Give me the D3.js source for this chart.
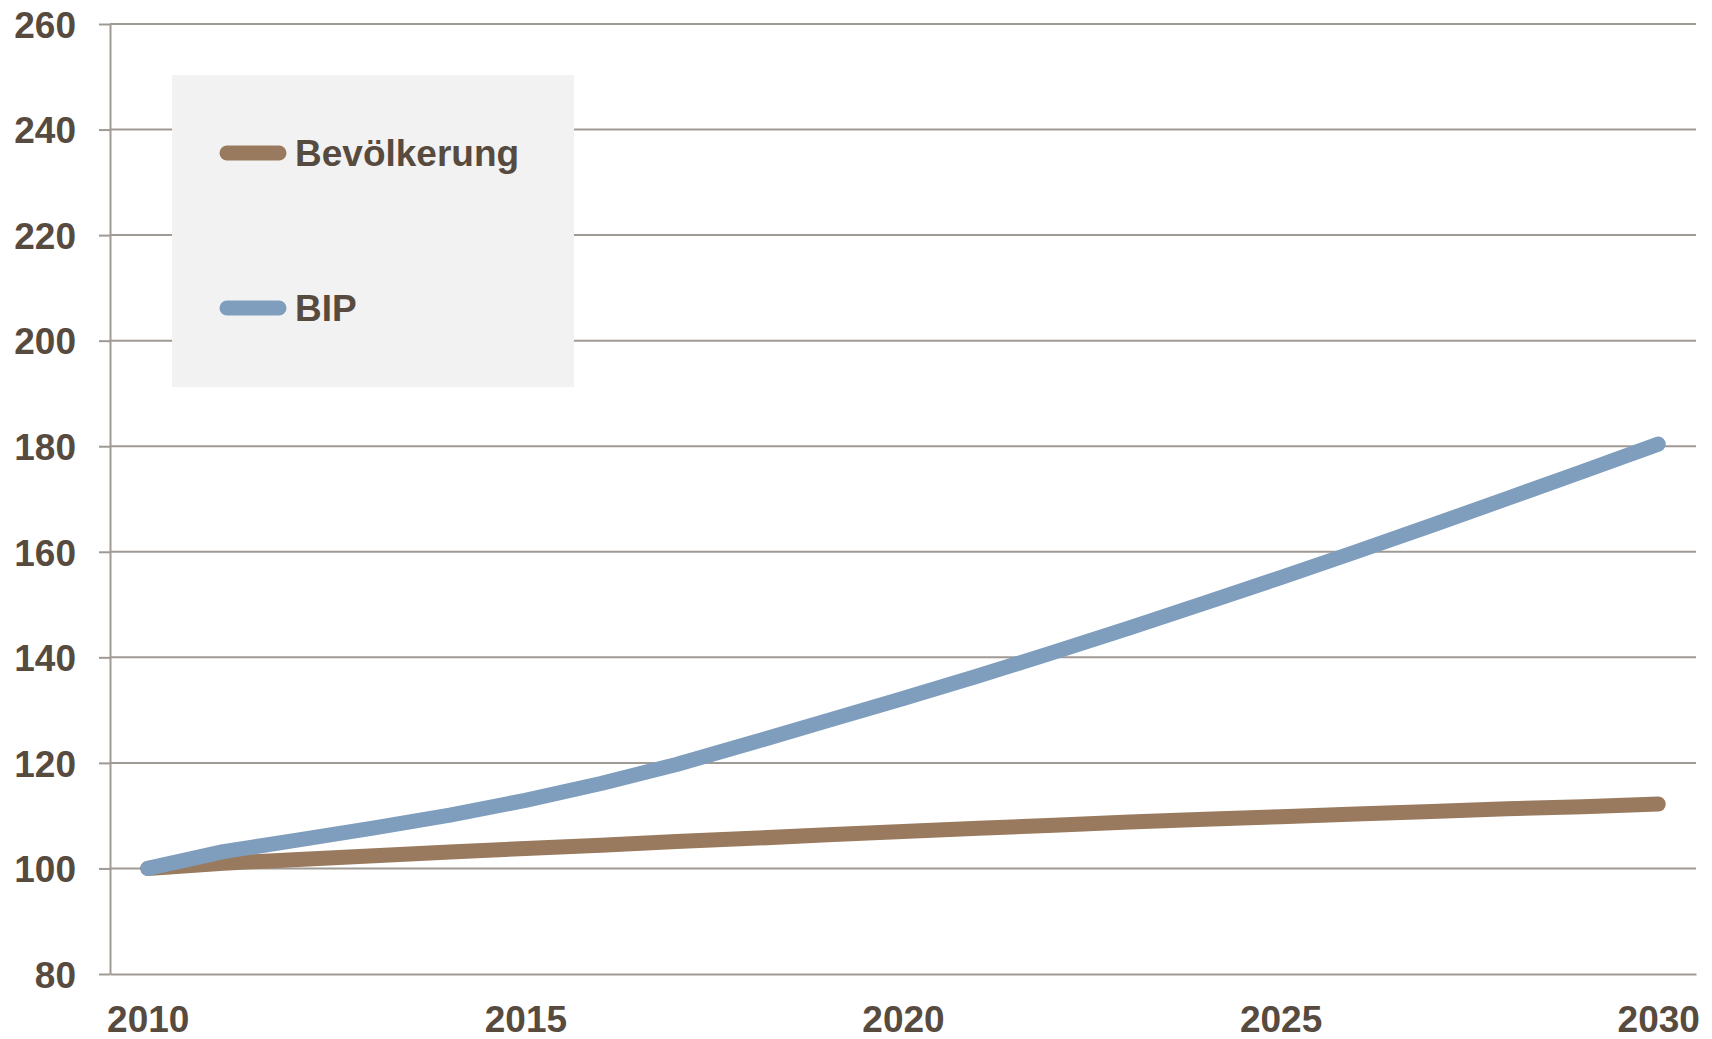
<!DOCTYPE html>
<html lang="de">
<head>
    <meta charset="utf-8">
    <script src="https://d3js.org/d3.v7.min.js"></script>
    <style>
        body { margin: 0; background: #fff; }
        svg text { font-family: "Liberation Sans", Arial, sans-serif; font-weight: bold; }
    </style>
</head>
<body>
    <div id="chart"></div>
    <script>
        // years on the x axis (index 2010 = 100)
        var years = d3.range(2010, 2031);
        var xTickLabels = [2010, 2015, 2020, 2025, 2030];
        var yTickValues = [80, 100, 120, 140, 160, 180, 200, 220, 240, 260];

        // series values
        var bevoelkerung = [100, 101.0, 101.7, 102.4, 103.1, 103.8, 104.4, 105.1, 105.7, 106.4, 107.0,
            107.6, 108.2, 108.8, 109.3, 109.8, 110.3, 110.8, 111.3, 111.7, 112.2];
        var bip = [100, 103.2, 105.4, 107.7, 110.1, 112.9, 116.1, 119.7, 123.8, 128.0, 132.2,
            136.5, 141.0, 145.6, 150.3, 155.1, 160.0, 165.0, 170.1, 175.2, 180.4];

        var seriesNames = ["Bevölkerung", "BIP"];
        var seriesColors = ["#997a5f", "#7f9ebd"];

        var width = 1712,
            height = 1039;
        var margin = { top: 24, right: 16, bottom: 65, left: 110 };
        var textColor = "#574a3e",
            gridColor = "#a09a94";

        var series = [
            { name: seriesNames[0], color: seriesColors[0], values: bevoelkerung },
            { name: seriesNames[1], color: seriesColors[1], values: bip }
        ];

        var svg = d3.select("#chart").append("svg")
            .attr("width", width)
            .attr("height", height);

        var x = d3.scalePoint()
            .domain(years)
            .range([margin.left, width - margin.right])
            .padding(0.5);

        var y = d3.scaleLinear()
            .domain([80, 260])
            .range([height - margin.bottom, margin.top]);

        // horizontal gridlines
        svg.append("g")
            .selectAll("line")
            .data(yTickValues.slice(1))
            .join("line")
            .attr("x1", margin.left)
            .attr("x2", width - margin.right)
            .attr("y1", d => y(d))
            .attr("y2", d => y(d))
            .attr("stroke", gridColor)
            .attr("stroke-width", 2);

        // y axis
        svg.append("g")
            .attr("transform", `translate(${margin.left},0)`)
            .call(d3.axisLeft(y).tickValues(yTickValues).tickSize(11).tickSizeOuter(0).tickPadding(23))
            .call(g => g.select(".domain").attr("stroke", gridColor).attr("stroke-width", 2))
            .call(g => g.selectAll(".tick line").attr("stroke", gridColor).attr("stroke-width", 2))
            .call(g => g.selectAll(".tick text")
                .attr("fill", textColor)
                .attr("font-size", 37)
                .attr("font-family", null)
                .attr("dy", "0.36em"));

        // x axis
        svg.append("g")
            .attr("transform", `translate(0,${height - margin.bottom})`)
            .call(d3.axisBottom(x).tickValues(xTickLabels).tickSize(0).tickPadding(32))
            .call(g => g.select(".domain").attr("stroke", gridColor).attr("stroke-width", 2))
            .call(g => g.selectAll(".tick text")
                .attr("fill", textColor)
                .attr("font-size", 37)
                .attr("font-family", null));

        // legend box
        var legend = svg.append("g");
        legend.append("rect")
            .attr("x", 172)
            .attr("y", 75)
            .attr("width", 402)
            .attr("height", 312)
            .attr("fill", "#f2f2f2");

        var legendY = [153, 308];
        var item = legend.selectAll("g.item")
            .data(series)
            .join("g")
            .attr("class", "item")
            .attr("transform", (d, i) => `translate(0,${legendY[i]})`);

        item.append("line")
            .attr("x1", 227)
            .attr("x2", 279)
            .attr("stroke", d => d.color)
            .attr("stroke-width", 15)
            .attr("stroke-linecap", "round");

        item.append("text")
            .attr("x", 295)
            .attr("dy", "0.36em")
            .attr("fill", textColor)
            .attr("font-size", 37)
            .text(d => d.name);

        // data lines
        var line = d3.line()
            .x((d, i) => x(years[i]))
            .y(d => y(d));

        svg.append("g")
            .attr("fill", "none")
            .attr("stroke-width", 15)
            .attr("stroke-linecap", "round")
            .attr("stroke-linejoin", "round")
            .selectAll("path")
            .data(series)
            .join("path")
            .attr("stroke", d => d.color)
            .attr("d", d => line(d.values));
    </script>
</body>
</html>
